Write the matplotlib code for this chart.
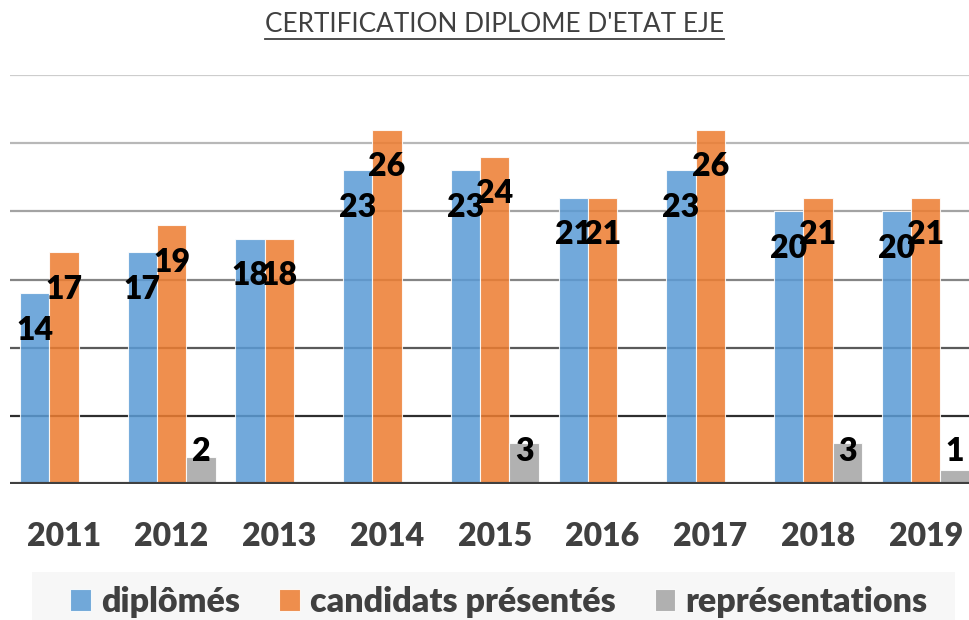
import numpy as np
import matplotlib
matplotlib.use("Agg")
import matplotlib.pyplot as plt
from matplotlib.patches import Rectangle
from matplotlib.lines import Line2D

annees = ["2011", "2012", "2013", "2014", "2015", "2016", "2017", "2018", "2019"]
diplomes = [14, 17, 18, 23, 23, 21, 23, 20, 20]
candidats = [17, 19, 18, 26, 24, 21, 26, 21, 21]
representations = [0, 2, 0, 0, 3, 0, 0, 3, 1]
series = ["diplômés", "candidats présentés", "représentations"]
couleurs = ["#5B9BD5", "#ED7D31", "#A5A5A5"]
titre = "CERTIFICATION DIPLOME D'ETAT EJE"

W, H, my_dpi = 970, 620, 100
plt.rcParams['font.family'] = ['Lato', 'DejaVu Sans']

fig = plt.figure(figsize=(W / my_dpi, H / my_dpi), dpi=my_dpi)
ax = fig.add_axes([10 / W, (H - 484) / H, 969.5 / W, 409 / H])

x = np.arange(len(annees))
largeur = 0.272
donnees = [diplomes, candidats, representations]

# lignes de grille, de plus en plus foncees vers le bas
gris = {5: "#2e2e2e", 10: "#5a5a5a", 15: "#858585", 20: "#a3a3a3", 25: "#b8b8b8", 30: "#cdcdcd"}
for niveau, c in gris.items():
    ax.axhline(niveau, color=c, linewidth=1.6, zorder=1)

for i, (vals, coul) in enumerate(zip(donnees, couleurs)):
    pos = x + (i - 1) * largeur
    vals = np.array(vals)
    garde = vals > 0
    ax.bar(pos[garde], vals[garde], width=largeur, color=coul, alpha=0.86,
           edgecolor=(1, 1, 1, 0.6), linewidth=0.8, zorder=2, label=series[i])
    for p, v in zip(pos[garde], vals[garde]):
        y = max(v - 2.72, 2.4)
        ax.text(p, y, str(v), ha="center", va="center", fontsize=23,
                fontweight="heavy", color="black", zorder=4)

ax.axhline(0, color="#404040", linewidth=3, zorder=3)

ax.set_xlim(-0.5, len(annees) - 0.5)
ax.set_ylim(0, 30)
ax.set_yticks([])
ax.set_xticks(x)
ax.set_xticklabels(annees, fontsize=23, fontweight="heavy", color="#404040")
ax.tick_params(axis="x", length=0, pad=27)
for s in ax.spines.values():
    s.set_visible(False)

# fond de la legende
fig.patches.append(Rectangle((32 / W, 0), 923 / W, 48 / H, transform=fig.transFigure,
                             facecolor="#f7f7f7", edgecolor="none", zorder=0))
leg = fig.legend(loc="center", bbox_to_anchor=(499 / W, (H - 602) / H), ncol=3,
                 frameon=False, prop={"size": 24.5, "weight": "heavy"},
                 handlelength=0.6, handleheight=0.6, handletextpad=0.3,
                 columnspacing=1.15, borderpad=0)
for t in leg.get_texts():
    t.set_color("#404040")

t = fig.text(494.5 / W, 1 - 25 / H, titre, ha="center", va="center", fontsize=18.8,
             color="#404040")
fig.canvas.draw()
bb = t.get_window_extent().transformed(fig.transFigure.inverted())
fig.lines.append(Line2D([bb.x0, bb.x1], [bb.y0 - 2 / H, bb.y0 - 2 / H], transform=fig.transFigure,
                        color="#404040", linewidth=1.3))

plt.savefig("out.png", dpi=my_dpi)
